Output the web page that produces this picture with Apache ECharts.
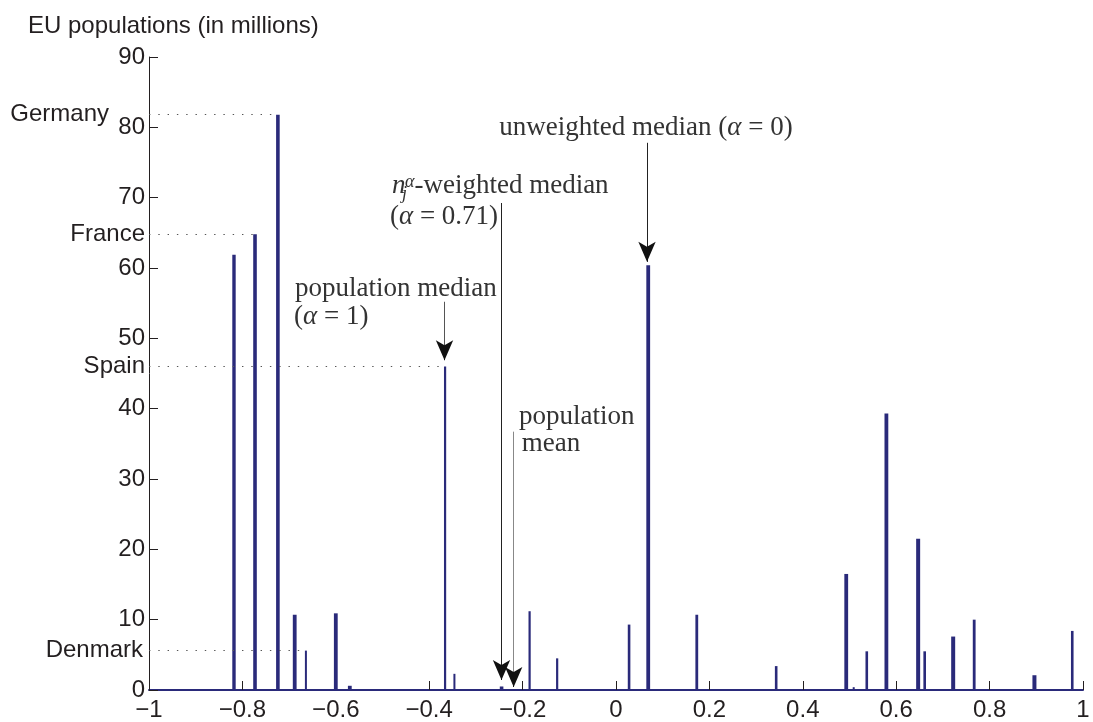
<!DOCTYPE html>
<html><head><meta charset="utf-8">
<script src="https://cdn.jsdelivr.net/npm/echarts@6/dist/echarts.min.js"></script>
<style>html,body{margin:0;padding:0;background:#fff}#c{width:1093px;height:722px}</style>
</head><body><div id="c"></div>
<script>
// ---- data ----
const barPositions   = [-0.818, -0.773, -0.724, -0.688, -0.664, -0.600, -0.570, -0.366, -0.346, -0.245, -0.185, -0.126,
                         0.028, 0.069, 0.173, 0.343, 0.493, 0.509, 0.537, 0.579, 0.647, 0.661, 0.722, 0.767, 0.896, 0.977];
const barPopulations = [61.9, 64.8, 81.8, 10.7, 5.6, 10.9, 0.6, 46.0, 2.3, 0.5, 11.2, 4.5,
                         9.3, 60.4, 10.7, 3.4, 16.5, 0.4, 5.5, 39.3, 21.5, 5.5, 7.6, 10.0, 2.1, 8.4];
const namedCountries = ['Germany', 'France', 'Spain', 'Denmark'];
const namedBarIndex  = [2, 1, 7, 4];
const xTickValues = [-1, -0.8, -0.6, -0.4, -0.2, 0, 0.2, 0.4, 0.6, 0.8, 1];
const yTickValues = [0, 10, 20, 30, 40, 50, 60, 70, 80, 90];

// ---- styling (kept apart from the data) ----
const barWidthPx = [3.4,3.6,3.6,3.8,2,3.8,3.8,2.2,2,3.6,2.2,2.2,2.6,3.8,2.8,2.6,3.8,2,2.6,3.8,4,2.6,4,2.8,4,2.6];
const NAVY = '#2a2a7a';
const INK = '#231f20';
const SANS = 'Liberation Sans, Arial, sans-serif';
const SERIF = 'Liberation Serif, Times New Roman, serif';
const ANN = '#333333';
const FS = 27;
const FS_SMALL = 18;

const chart = echarts.init(document.getElementById('c'), null, {renderer: 'canvas'});

function fmtX(v) {
  const s = String(+Math.abs(v).toFixed(1));
  return v < 0 ? '\u2212' + s : s;
}

function txt(coord, formatter, opts) {
  opts = opts || {};
  return {
    coord: coord, symbol: 'circle', symbolSize: 0,
    itemStyle: {color: 'transparent'},
    label: Object.assign({
      show: true, position: 'inside', formatter: formatter,
      align: 'left', verticalAlign: 'middle',
      fontFamily: SERIF, fontSize: FS, color: ANN,
      rich: {i: {fontStyle: 'italic', fontFamily: SERIF, fontSize: FS, color: ANN}}
    }, opts)
  };
}

// an annotation line (no head) plus a short black segment carrying the arrowhead
function arrow(x, yFrom, yTip, lineColor) {
  return [
    [{coord: [x, yFrom], lineStyle: {color: lineColor, width: 1, type: 'solid'}},
     {coord: [x, yTip]}],
    [{coord: [x, yTip + 2], lineStyle: {color: '#111', width: 1, type: 'solid'}},
     {coord: [x, yTip], symbol: 'arrow', symbolSize: [13, 20]}]
  ];
}

const countryLines = namedCountries.map((name, k) => {
  const i = namedBarIndex[k];
  return [
    {coord: [-1, barPopulations[i]],
     lineStyle: {color: '#555', width: 1.2, type: [1.4, 7.9]},
     label: {show: true, position: 'start', formatter: name, distance: k === 0 ? 40 : (k === 3 ? 6 : 4),
             fontFamily: SANS, fontSize: 24, color: INK}},
    {coord: [barPositions[i] - 0.004, barPopulations[i]]}
  ];
});

const smallItalic = {rich: {s: {fontStyle: 'italic', fontFamily: SERIF, fontSize: FS_SMALL, color: ANN}}};

const option = {
  animation: false,
  backgroundColor: '#ffffff',
  title: {
    text: 'EU populations (in millions)', left: 28, top: 14, padding: 0,
    textStyle: {fontFamily: SANS, fontSize: 24, fontWeight: 'normal', color: INK}
  },
  grid: {left: 149, right: 10, top: 57, bottom: 32, containLabel: false},
  xAxis: {
    type: 'value', min: -1, max: 1, interval: 0.2,
    axisLine: {show: true, onZero: false, lineStyle: {color: NAVY, width: 2}},
    axisTick: {show: true, inside: true, length: 9, lineStyle: {color: INK, width: 1}},
    axisLabel: {margin: 8, fontFamily: SANS, fontSize: 24, color: INK, formatter: fmtX,
                showMinLabel: true, showMaxLabel: true},
    splitLine: {show: false}
  },
  yAxis: {
    type: 'value', min: 0, max: 90, interval: 10,
    axisLine: {show: true, onZero: false, lineStyle: {color: INK, width: 1}},
    axisTick: {show: true, inside: true, length: 9, lineStyle: {color: INK, width: 1}},
    axisLabel: {margin: 4, fontFamily: SANS, fontSize: 24, color: INK,
                formatter: v => yTickValues.indexOf(v) >= 0 ? String(v) : ''},
    splitLine: {show: false}
  },
  series: [{
    type: 'custom',
    clip: false,
    data: barPositions.map((x, i) => [x, barPopulations[i]]),
    encode: {x: 0, y: 1},
    renderItem: function (params, api) {
      const i = params.dataIndex;
      const top = api.coord([api.value(0), api.value(1)]);
      const base = api.coord([api.value(0), 0]);
      const w = barWidthPx[i];
      return {type: 'rect', shape: {x: top[0] - w / 2, y: top[1], width: w, height: base[1] - top[1]},
              style: {fill: NAVY}};
    },
    markLine: {
      silent: true, animation: false,
      symbol: ['none', 'none'],
      label: {show: false},
      emphasis: {disabled: true},
      data: [].concat(
        countryLines,
        arrow(0.0664, 77.8, 60.9, '#222'),
        arrow(-0.3672, 55.2, 46.9, '#555'),
        arrow(-0.2452, 69.24, 1.42, '#222'),
        arrow(-0.2191, 36.73, 0.43, '#888')
      )
    },
    markPoint: {
      silent: true, animation: false,
      data: [
        txt([0.0642, 79.92], 'unweighted median ({i|α} = 0)', {align: 'center'}),
        txt([-0.4797, 71.67], '{i|n}'),
        txt([-0.4520, 72.25], '{s|α}', smallItalic),
        txt([-0.4582, 70.54], '{s|j}', smallItalic),
        txt([-0.4316, 71.67], '-weighted median'),
        txt([-0.4840, 67.27], '({i|α} = 0.71)'),
        txt([-0.6874, 57.03], 'population median'),
        txt([-0.6895, 53.05], '({i|α} = 1)'),
        txt([-0.2077, 38.83], 'population'),
        txt([-0.2019, 34.95], 'mean')
      ]
    }
  }]
};

chart.setOption(option);
</script>
</body></html>
